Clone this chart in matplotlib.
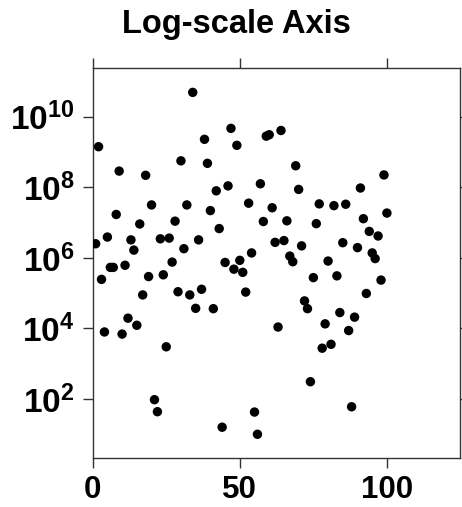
import numpy as np
import matplotlib
matplotlib.use("Agg")
import matplotlib.pyplot as plt
from matplotlib.ticker import FixedLocator, FuncFormatter

plt.rcParams['font.family'] = ['Liberation Sans', 'DejaVu Sans']
plt.rcParams['font.weight'] = 'bold'
plt.rcParams['mathtext.fontset'] = 'custom'
plt.rcParams['mathtext.rm'] = 'Liberation Sans:bold'
plt.rcParams['mathtext.it'] = 'Liberation Sans:bold'
plt.rcParams['mathtext.bf'] = 'Liberation Sans:bold'

# data: x index 1..100, y as log10 values
x_values = list(range(1, 101))
log10_y = [
    6.40, 9.15, 5.39, 3.90, 6.59, 5.73, 5.73, 7.23, 8.46, 3.84,
    5.79, 4.29, 6.51, 6.22, 4.09, 6.96, 4.95, 8.34, 5.47, 7.50,
    1.98, 1.64, 6.54, 5.52, 3.48, 6.56, 5.88, 7.04, 5.04, 8.75,
    6.26, 7.50, 4.95, 10.69, 4.57, 6.51, 5.11, 9.36, 8.68, 7.34,
    4.56, 7.90, 6.83, 1.20, 5.87, 8.04, 9.67, 5.68, 9.19, 5.93,
    5.59, 5.03, 7.55, 6.14, 1.63, 1.00, 8.10, 7.03, 9.45, 9.49,
    7.42, 6.44, 4.04, 9.61, 6.49, 7.05, 6.05, 5.89, 8.61, 7.94,
    6.34, 4.78, 4.56, 2.49, 5.44, 6.97, 7.53, 3.44, 4.13, 5.91,
    3.55, 7.48, 5.49, 4.45, 6.43, 7.52, 3.94, 1.78, 4.32, 6.29,
    7.98, 7.11, 4.99, 6.75, 6.14, 5.98, 6.62, 5.37, 8.35, 7.27,
]
y_values = [10 ** v for v in log10_y]

x_ticks = [0, 50, 100]
y_tick_exponents = [2, 4, 6, 8, 10]
title_text = "Log-scale Axis"

fig = plt.figure(figsize=(4.62, 5.07), dpi=100)
ax = fig.add_axes([0.2006, 0.0961, 0.7961, 0.7704])
ax.scatter(x_values, y_values, s=46, color='black', edgecolors='none', zorder=3)
ax.set_yscale('log')
ax.set_xlim(0, 125)
ax.set_ylim(10 ** 0.32, 10 ** 11.39)

ax.xaxis.set_major_locator(FixedLocator(x_ticks))
ax.yaxis.set_major_locator(FixedLocator([10.0 ** e for e in y_tick_exponents]))
ax.yaxis.set_minor_locator(FixedLocator([]))
ax.yaxis.set_major_formatter(FuncFormatter(lambda v, p: r'$\mathrm{10^{%d}}$' % round(np.log10(v))))
ax.xaxis.set_major_formatter(FuncFormatter(lambda v, p: '%d' % v))

for sp in ax.spines.values():
    sp.set_color('#333333')
    sp.set_linewidth(1.0)

ax.tick_params(axis='both', which='major', direction='out', length=7.2, width=1.0,
               color='#333333', top=True, right=True,
               labeltop=False, labelright=False)
ax.tick_params(axis='x', pad=5, labelsize=22.5)
ax.tick_params(axis='y', pad=6, labelsize=24)
for lab in ax.get_xticklabels() + ax.get_yticklabels():
    lab.set_fontweight('bold')

fig.text(0.512, 0.935, title_text, ha='center', va='baseline', fontsize=23.5,
         fontweight='bold')

fig.savefig('out.png', dpi=100)
